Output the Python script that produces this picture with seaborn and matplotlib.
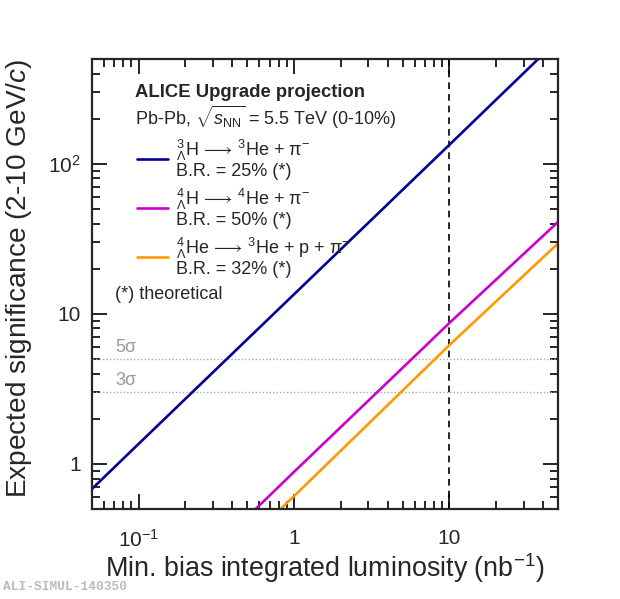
import numpy as np
import pandas as pd
import matplotlib
matplotlib.use("Agg")
import matplotlib.pyplot as plt
import seaborn as sns
from matplotlib.lines import Line2D
from matplotlib.ticker import FixedLocator, FixedFormatter, LogLocator, NullFormatter

# ---- data ----
lumi = [0.05, 0.1, 1.0, 10.0, 50.0]
sig_H3L = [0.68, 1.36, 13.5, 134.0, 670.0]
sig_H4L = [0.044, 0.088, 0.885, 8.7, 41.0]
sig_He4L = [0.031, 0.062, 0.61, 6.2, 29.5]
series_names = ["H3L", "H4L", "He4L"]
series_labels = [
    "${}^{3}_{\\Lambda}$H$\\,\\longrightarrow\\,$${}^{3}$He + \u03c0$^{-}$\nB.R. = 25% (*)",
    "${}^{4}_{\\Lambda}$H$\\,\\longrightarrow\\,$${}^{4}$He + \u03c0$^{-}$\nB.R. = 50% (*)",
    "${}^{4}_{\\Lambda}$He$\\,\\longrightarrow\\,$${}^{3}$He + p + \u03c0$^{-}$\nB.R. = 32% (*)",
]
sigma_levels = [5, 3]
sigma_labels = ["5\u03c3", "3\u03c3"]
lumi_ref = 10.0
x_ticks = [0.1, 1, 10]
x_ticklabels = ["$10^{-1}$", "1", "10"]
y_ticks = [1, 10, 100]
y_ticklabels = ["1", "10", "$10^{2}$"]

colors = ["#000099", "#cc00cc", "#ff9900"]

df = pd.DataFrame({
    "lumi": lumi * 3,
    "sig": sig_H3L + sig_H4L + sig_He4L,
    "series": sum([[n] * len(lumi) for n in series_names], []),
})

sns.set_style("ticks")
plt.rcParams["font.family"] = ["Liberation Sans", "DejaVu Sans"]
plt.rcParams["mathtext.fontset"] = "custom"
plt.rcParams["mathtext.rm"] = "Liberation Sans"
plt.rcParams["mathtext.it"] = "Liberation Sans:italic"
plt.rcParams["mathtext.bf"] = "Liberation Sans:bold"

fig = plt.figure(figsize=(6.2, 5.99), dpi=100)
ax = fig.add_axes([0.148, 0.150, 0.752, 0.7515])

for name, c in zip(series_names, colors):
    sub = df[df["series"] == name]
    sns.lineplot(data=sub, x="lumi", y="sig", ax=ax, color=c, lw=1.9,
                 sort=False, estimator=None, legend=False)

ax.set_xscale("log")
ax.set_yscale("log")
ax.set_xlim(0.05, 50)
ax.set_ylim(0.5, 500)

# significance levels
for lev, lab in zip(sigma_levels, sigma_labels):
    ax.axhline(lev, color="#aaaaaa", ls=(0, (1, 1.5)), lw=1.0, zorder=1)
    ax.text(0.071, lev * 1.05, lab, color="#999999", fontsize=13,
            ha="left", va="bottom")

ax.axvline(lumi_ref, color="black", ls=(0, (4, 3)), lw=1.2, zorder=1)

# ticks
ax.xaxis.set_major_locator(FixedLocator(x_ticks))
ax.xaxis.set_major_formatter(FixedFormatter(x_ticklabels))
ax.xaxis.set_minor_locator(LogLocator(base=10, subs=np.arange(2, 10)))
ax.xaxis.set_minor_formatter(NullFormatter())
ax.yaxis.set_major_locator(FixedLocator(y_ticks))
ax.yaxis.set_major_formatter(FixedFormatter(y_ticklabels))
ax.yaxis.set_minor_locator(LogLocator(base=10, subs=np.arange(2, 10)))
ax.yaxis.set_minor_formatter(NullFormatter())
ax.tick_params(which="both", direction="in", top=True, right=True,
               width=1.2, color="black")
ax.tick_params(which="major", length=11, labelsize=15, pad=14)
ax.tick_params(which="minor", length=6)
ax.tick_params(axis="y", which="major", pad=8)
for sp in ax.spines.values():
    sp.set_linewidth(1.6)
    sp.set_visible(True)

ax.set_xlabel("Min. bias integrated luminosity (nb$^{-1}$)", fontsize=19.4,
              va="center")
ax.set_ylabel("Expected significance (2-10 GeV/$\\it{c}$)", fontsize=20.2,
              va="center")
ax.xaxis.set_label_coords(0.5, -0.132)
ax.yaxis.set_label_coords(-0.157, 0.513)

# annotations
ax.text(0.093, 0.925, "ALICE Upgrade projection", transform=ax.transAxes,
        fontsize=13.3, fontweight="bold", ha="left", va="center")
ax.text(0.093, 0.87, "Pb-Pb, $\\sqrt{s_{\\rm NN}}$ = 5.5 TeV (0-10%)",
        transform=ax.transAxes, fontsize=13, ha="left", va="center")
ax.text(0.05, 0.476, "(*) theoretical", transform=ax.transAxes,
        fontsize=13, ha="left", va="center")

handles = [Line2D([0], [0], color=c, lw=1.9) for c in colors]
leg = ax.legend(handles, series_labels, loc="upper left",
                bbox_to_anchor=(0.082, 0.84), frameon=False, fontsize=13,
                handlelength=1.7, handletextpad=0.45, labelspacing=0.36,
                borderaxespad=0)
for t in leg.get_texts():
    t.set_linespacing(1.0)

fig.text(0.005, 0.01, "ALI-SIMUL-140350", fontsize=9.3,
         family="Liberation Mono", fontweight="bold", color="#bbbbbb",
         ha="left", va="bottom")

fig.savefig("out.png", dpi=100)
